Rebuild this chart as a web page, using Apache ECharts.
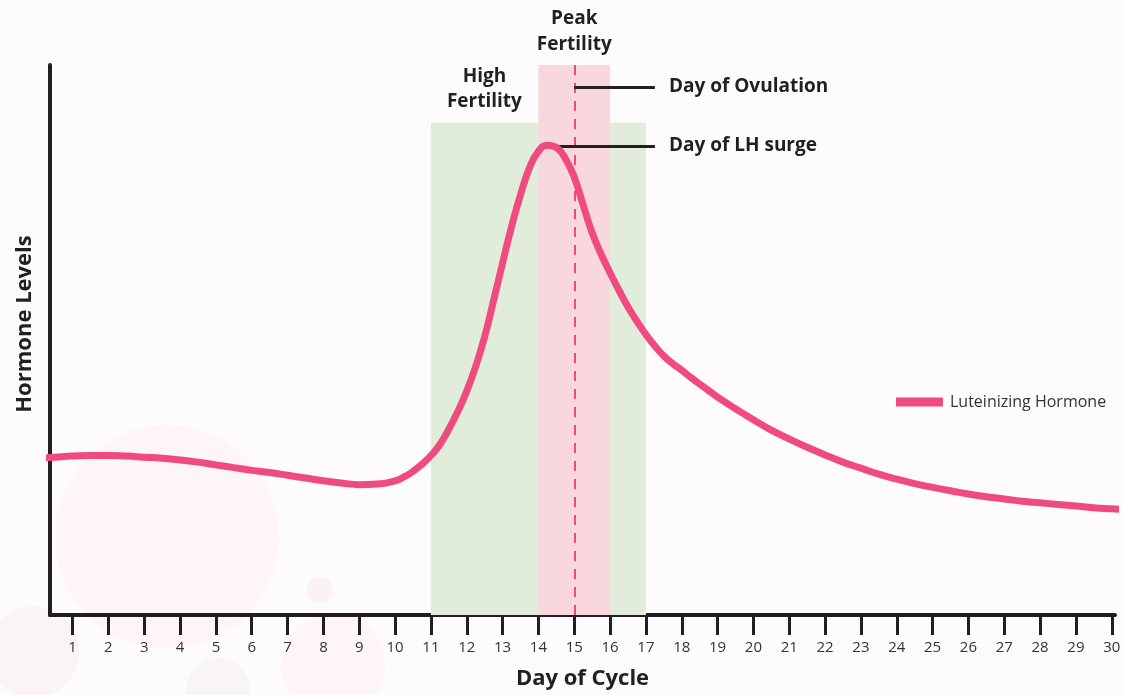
<!DOCTYPE html>
<html>
<head>
<meta charset="utf-8">
<script src="https://cdn.jsdelivr.net/npm/echarts@6/dist/echarts.min.js"></script>
<style>
html,body{margin:0;padding:0;background:#fefbfc;}
#chart{width:1124px;height:695px;}
</style>
</head>
<body>
<div id="chart"></div>
<script>
// ---- data ----
const days = [0, 0.5, 1, 1.5, 2, 2.5, 3, 3.5, 4, 4.5, 5, 5.5, 6, 6.5, 7, 7.5, 8, 8.5, 9, 9.5,
  10, 10.25, 10.5, 10.75, 11, 11.25, 11.5, 11.75, 12, 12.25, 12.5, 12.75, 13, 13.25, 13.5, 13.75,
  14, 14.25, 14.5, 14.75, 15, 15.25, 15.5, 15.75, 16, 16.25, 16.5, 16.75, 17, 17.25, 17.5, 17.75, 18,
  18.25, 18.5, 18.75, 19, 19.5, 20, 20.5, 21, 21.5, 22, 22.5, 23, 23.5, 24, 24.5, 25, 25.5, 26, 26.5, 27, 27.5, 28, 28.5, 29, 29.5, 30, 30.5];
const lhLevels = [28.5, 28.7, 28.9, 29.0, 29.0, 28.9, 28.7, 28.5, 28.2, 27.8, 27.3, 26.8, 26.3, 25.9, 25.4, 24.9, 24.4, 24.0, 23.7, 23.8,
  24.4, 25.1, 26.1, 27.4, 29.0, 31.0, 33.8, 37.0, 40.7, 45.2, 50.6, 57.2, 64.0, 70.6, 76.4, 81.3,
  84.3, 85.4, 85.0, 83.0, 79.6, 74.5, 69.5, 65.6, 62.2, 59.0, 56.0, 53.4, 51.0, 48.9, 47.1, 45.7, 44.5,
  43.2, 42.0, 40.8, 39.6, 37.5, 35.5, 33.6, 32.0, 30.5, 29.1, 27.8, 26.7, 25.6, 24.7, 23.9, 23.2, 22.6, 22.0, 21.5, 21.1, 20.7, 20.4, 20.1, 19.8, 19.5, 19.3, 19.1];
const dayTicks = [1,2,3,4,5,6,7,8,9,10,11,12,13,14,15,16,17,18,19,20,21,22,23,24,25,26,27,28,29,30];
const highFertility = [11, 17];
const highFertilityTop = 89.5;
const peakFertility = [14, 16];
const peakFertilityTop = 100;
const ovulationDay = 15;
const ovulationLabelLevel = 96;
const lhSurgeDay = 14.41;
const lhSurgeLevel = 85.3;
const calloutEndDay = 17.25;

const seriesName = 'Luteinizing Hormone';
const pink = '#ef4b80';
const ink = '#231f20';
const FONT = 'Open Sans';

const chart = echarts.init(document.getElementById('chart'));
const lhData = days.map((d, i) => [d, lhLevels[i]]);

const option = {
  backgroundColor: '#fefbfc',
  animation: false,
  textStyle: { fontFamily: FONT },
  graphic: [
    { type: 'circle', z: -10, shape: { cx: 167, cy: 537, r: 112 }, style: { fill: 'rgba(248,215,228,0.14)' } },
    { type: 'circle', z: -10, shape: { cx: 33, cy: 652, r: 46 }, style: { fill: 'rgba(225,210,215,0.15)' } },
    { type: 'circle', z: -10, shape: { cx: 218, cy: 690, r: 32 }, style: { fill: 'rgba(225,210,215,0.16)' } },
    { type: 'circle', z: -10, shape: { cx: 320, cy: 590, r: 13 }, style: { fill: 'rgba(248,215,228,0.25)' } },
    { type: 'circle', z: -10, shape: { cx: 333, cy: 665, r: 52 }, style: { fill: 'rgba(248,215,228,0.14)' } }
  ],
  grid: { left: 50, right: 9, top: 65, bottom: 78, containLabel: false },
  legend: {
    data: [seriesName],
    left: 896, top: 394, padding: 0,
    icon: 'rect', itemWidth: 47, itemHeight: 9, itemGap: 8,
    textStyle: { fontFamily: FONT, fontSize: 16, color: '#333', padding: [0, 0, 0, 2] }
  },
  xAxis: {
    type: 'value',
    min: 0.37, max: 30.09,
    name: 'Day of Cycle',
    nameLocation: 'middle',
    nameGap: 53,
    nameTextStyle: { fontFamily: FONT, fontSize: 22, fontWeight: 'bold', color: ink },
    axisLine: { show: true, lineStyle: { color: ink, width: 4 } },
    axisTick: { show: true, customValues: dayTicks, length: 20, lineStyle: { color: ink, width: 3 } },
    axisLabel: { show: true, customValues: dayTicks, margin: 25, fontFamily: FONT, fontSize: 15, color: '#333' },
    splitLine: { show: false }
  },
  yAxis: {
    type: 'value',
    min: 0, max: 100,
    name: 'Hormone Levels',
    nameLocation: 'middle',
    nameGap: 14,
    nameTextStyle: { fontFamily: FONT, fontSize: 22, fontWeight: 'bold', color: ink, padding: [0, 0, 0, 32] },
    axisLine: { show: true, lineStyle: { color: ink, width: 4 } },
    axisTick: { show: false },
    axisLabel: { show: false },
    splitLine: { show: false }
  },
  series: [
    {
      name: 'bands',
      type: 'line',
      data: lhData,
      showSymbol: false,
      silent: true,
      z: 1,
      lineStyle: { opacity: 0 },
      markArea: {
        silent: true,
        data: [
          [
            { xAxis: highFertility[0], yAxis: 0, itemStyle: { color: '#e1ecdb' },
              label: { show: true, position: 'top', distance: 9, offset: [-54, 0], formatter: 'High\nFertility',
                       fontFamily: FONT, fontSize: 19, fontWeight: 'bold', color: ink, lineHeight: 25, align: 'center' } },
            { xAxis: highFertility[1], yAxis: highFertilityTop }
          ],
          [
            { xAxis: peakFertility[0], yAxis: 0, itemStyle: { color: '#f9d8dd' },
              label: { show: true, position: 'top', distance: 7, formatter: 'Peak\nFertility',
                       fontFamily: FONT, fontSize: 19, fontWeight: 'bold', color: ink, lineHeight: 26, align: 'center' } },
            { xAxis: peakFertility[1], yAxis: peakFertilityTop }
          ]
        ]
      },
      markLine: {
        silent: true,
        symbol: ['none', 'none'],
        z: 2,
        data: [
          [
            { coord: [ovulationDay, 0], lineStyle: { color: pink, width: 2, type: [10, 8] }, label: { show: false } },
            { coord: [ovulationDay, peakFertilityTop] }
          ]
        ]
      }
    },
    {
      name: seriesName,
      type: 'line',
      data: lhData,
      smooth: 0.5,
      showSymbol: false,
      z: 5,
      color: pink,
      lineStyle: { color: pink, width: 7, cap: 'round' },
      markLine: {
        silent: true,
        symbol: ['none', 'none'],
        data: [
          [
            { coord: [ovulationDay, ovulationLabelLevel] },
            { coord: [calloutEndDay, ovulationLabelLevel] }
          ],
          [
            { coord: [lhSurgeDay, lhSurgeLevel] },
            { coord: [calloutEndDay, lhSurgeLevel] }
          ]
        ],
        lineStyle: { color: ink, width: 3, type: 'solid' },
        label: {
          show: true, position: 'end', distance: 14,
          formatter: (p) => p.dataIndex === 0 ? 'Day of Ovulation' : 'Day of LH surge',
          fontFamily: FONT, fontSize: 19, fontWeight: 'bold', color: ink
        }
      }
    }
  ]
};
chart.setOption(option);
</script>
</body>
</html>
